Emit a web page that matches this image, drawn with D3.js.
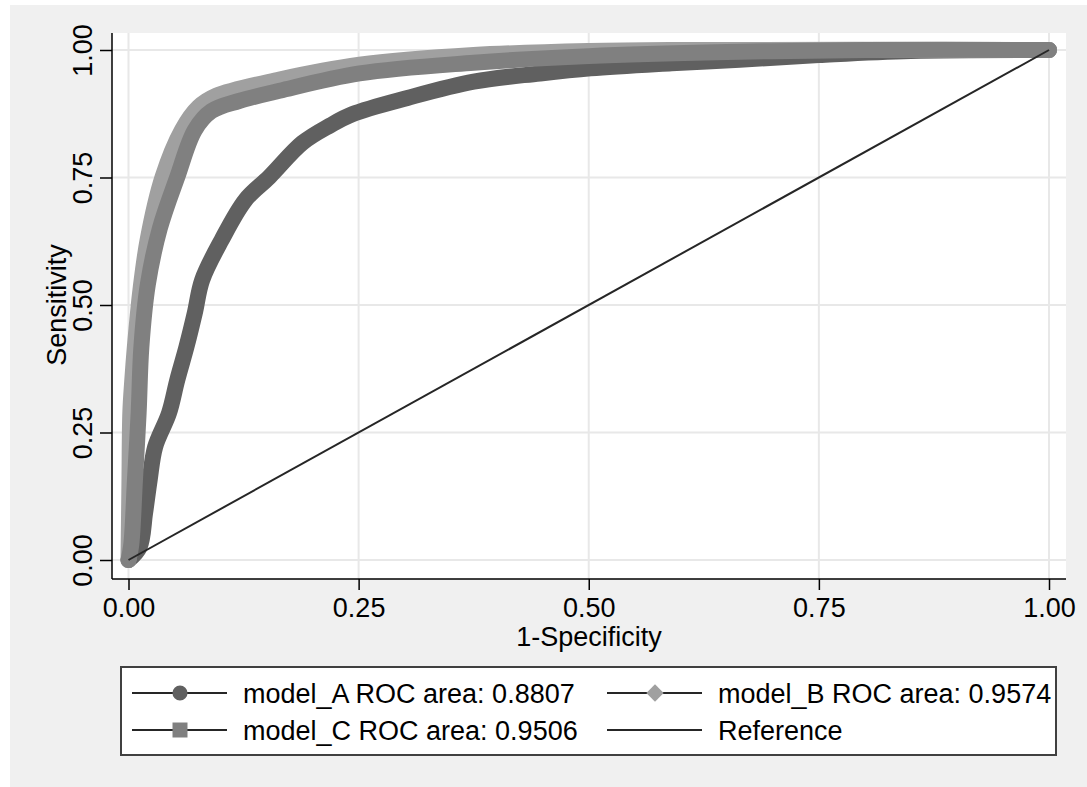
<!DOCTYPE html>
<html>
<head>
<meta charset="utf-8">
<script src="https://cdn.jsdelivr.net/npm/d3@7"></script>
<style>
  body { margin: 0; background: #ffffff; }
  text { font-family: "Liberation Sans", Arial, sans-serif; fill: #000; }
</style>
</head>
<body>
<div id="roc"></div>
<script>
// ROC curve points (1-specificity, sensitivity)
var modelA_x = [0, 0.012, 0.018, 0.023, 0.029, 0.044, 0.053, 0.063, 0.072, 0.080, 0.101, 0.127, 0.153, 0.189, 0.219, 0.243, 0.303, 0.375, 0.447, 0.502, 0.59, 0.664, 0.75, 0.85, 1];
var modelA_y = [0, 0.025, 0.092, 0.157, 0.222, 0.288, 0.353, 0.418, 0.484, 0.549, 0.627, 0.706, 0.751, 0.818, 0.852, 0.874, 0.906, 0.938, 0.954, 0.964, 0.974, 0.981, 0.990, 0.998, 1];

var modelB_x = [0, 0.001, 0.002, 0.004, 0.007, 0.013, 0.021, 0.037, 0.058, 0.076, 0.095, 0.164, 0.251, 0.375, 0.5, 0.6, 1];
var modelB_y = [0, 0.15, 0.29, 0.35, 0.42, 0.53, 0.63, 0.751, 0.843, 0.888, 0.910, 0.942, 0.971, 0.990, 0.998, 1, 1];

var modelC_x = [0, 0.003, 0.007, 0.011, 0.014, 0.021, 0.034, 0.053, 0.072, 0.090, 0.120, 0.164, 0.251, 0.375, 0.5, 0.65, 0.8, 1];
var modelC_y = [0, 0.03, 0.157, 0.288, 0.418, 0.54, 0.65, 0.751, 0.843, 0.880, 0.900, 0.920, 0.954, 0.975, 0.988, 0.996, 1, 1];

var ref_x = [0, 1];
var ref_y = [0, 1];

var ticks = [0, 0.25, 0.5, 0.75, 1];
var tickLabels = ["0.00", "0.25", "0.50", "0.75", "1.00"];
var legendLabels = ["model_A ROC area: 0.8807", "model_B ROC area: 0.9574", "model_C ROC area: 0.9506", "Reference"];

var width = 1087, height = 787;
var fontSize = "27px";

var svg = d3.select("#roc").append("svg")
    .attr("width", width)
    .attr("height", height);

// Graph background and plot region
svg.append("rect")
    .attr("x", 10).attr("y", 5)
    .attr("width", width - 10).attr("height", height - 5)
    .attr("fill", "#f0f0f0");

svg.append("rect")
    .attr("x", 112).attr("y", 33)
    .attr("width", 1066 - 112).attr("height", 579 - 33)
    .attr("fill", "#ffffff");

// Scales
var x = d3.scaleLinear().domain([0, 1]).range([128.5, 1049]);
var y = d3.scaleLinear().domain([0, 1]).range([560, 50]);

// Grid lines
svg.append("g").selectAll("line")
    .data(ticks)
  .enter().append("line")
    .attr("x1", function(d) { return x(d); })
    .attr("x2", function(d) { return x(d); })
    .attr("y1", 33).attr("y2", 579)
    .attr("stroke", "#e8e8e8").attr("stroke-width", 2);

svg.append("g").selectAll("line")
    .data(ticks)
  .enter().append("line")
    .attr("y1", function(d) { return y(d); })
    .attr("y2", function(d) { return y(d); })
    .attr("x1", 112).attr("x2", 1066)
    .attr("stroke", "#e8e8e8").attr("stroke-width", 2);

// Curves
var line = d3.line()
    .x(function(d) { return x(d[0]); })
    .y(function(d) { return y(d[1]); })
    .curve(d3.curveCatmullRom.alpha(0.5));

var series = [
  {x: modelA_x, y: modelA_y, color: "#606060", w: 16},
  {x: modelB_x, y: modelB_y, color: "#a0a0a0", w: 16},
  {x: modelC_x, y: modelC_y, color: "#808080", w: 16},
  {x: ref_x, y: ref_y, color: "#262626", w: 2}
];

series.forEach(function(s) {
  svg.append("path")
      .datum(d3.zip(s.x, s.y))
      .attr("d", line)
      .attr("fill", "none")
      .attr("stroke", s.color)
      .attr("stroke-width", s.w)
      .attr("stroke-linejoin", "round")
      .attr("stroke-linecap", s.w > 2 ? "round" : "butt");
});

// x axis
var xAxis = svg.append("g")
    .attr("transform", "translate(0,579)")
    .call(d3.axisBottom(x).tickValues(ticks).tickSize(11)
      .tickFormat(function(d, i) { return tickLabels[i]; }));
xAxis.select(".domain").attr("d", "M112,0H1066").attr("stroke", "#000").attr("stroke-width", 1.5);
xAxis.selectAll(".tick line").attr("stroke", "#000").attr("stroke-width", 1.5);
xAxis.selectAll(".tick text")
    .attr("y", 38).attr("dy", null)
    .style("font-size", fontSize)
    .style("font-family", "Liberation Sans, Arial, sans-serif");

// y axis
var yAxis = svg.append("g")
    .attr("transform", "translate(112,0)")
    .call(d3.axisLeft(y).tickValues(ticks).tickSize(12)
      .tickFormat(function(d, i) { return tickLabels[i]; }));
yAxis.select(".domain").attr("d", "M0,33V579").attr("stroke", "#000").attr("stroke-width", 1.5);
yAxis.selectAll(".tick line").attr("stroke", "#000").attr("stroke-width", 1.5);
yAxis.selectAll(".tick text")
    .attr("x", null).attr("dy", null)
    .attr("transform", "translate(-20,0) rotate(-90)")
    .style("text-anchor", "middle")
    .style("font-size", fontSize)
    .style("font-family", "Liberation Sans, Arial, sans-serif");

// Axis titles
svg.append("text")
    .attr("x", 589).attr("y", 646)
    .attr("text-anchor", "middle")
    .style("font-size", fontSize)
    .text("1-Specificity");

svg.append("text")
    .attr("transform", "translate(66,305) rotate(-90)")
    .attr("text-anchor", "middle")
    .style("font-size", fontSize)
    .text("Sensitivity");

// Legend
svg.append("rect")
    .attr("x", 121).attr("y", 667)
    .attr("width", 1056 - 121).attr("height", 755 - 667)
    .attr("fill", "#ffffff")
    .attr("stroke", "#404040").attr("stroke-width", 2);

var legendPos = [
  {x: 132, y: 693, marker: "circle", color: "#606060"},
  {x: 607, y: 693, marker: "diamond", color: "#a0a0a0"},
  {x: 132, y: 730, marker: "square", color: "#808080"},
  {x: 607, y: 730, marker: null, color: null}
];

legendPos.forEach(function(p, i) {
  var g = svg.append("g").attr("transform", "translate(" + p.x + "," + p.y + ")");
  g.append("line")
      .attr("x1", 0).attr("x2", 95)
      .attr("stroke", "#262626").attr("stroke-width", 2);
  if (p.marker) {
    var sym = p.marker === "circle" ? d3.symbolCircle : d3.symbolSquare;
    var size = p.marker === "diamond" ? 150 : p.marker === "square" ? 225 : 180;
    g.append("path")
        .attr("transform", "translate(48,0)" + (p.marker === "diamond" ? " rotate(45)" : ""))
        .attr("d", d3.symbol().type(sym).size(size))
        .attr("fill", p.color);
  }
  g.append("text")
      .attr("x", 111).attr("y", 9.5)
      .style("font-size", fontSize)
      .text(legendLabels[i]);
});
</script>
</body>
</html>
